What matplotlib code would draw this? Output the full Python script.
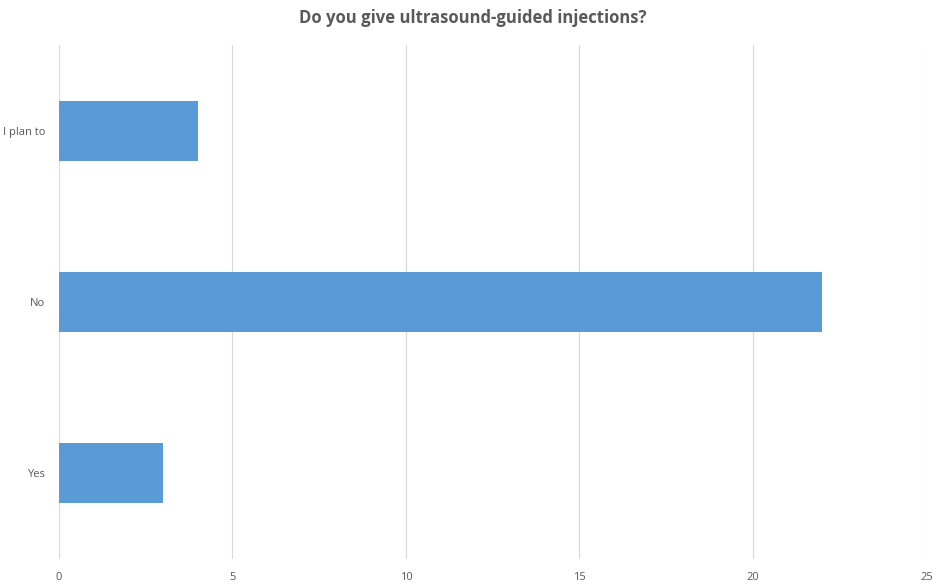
import matplotlib.pyplot as plt

categories = ["Yes", "No", "I plan to"]
counts = [3, 22, 4]
x_ticks = [0, 5, 10, 15, 20, 25]

plt.rcParams['font.family'] = ['Open Sans', 'DejaVu Sans']

fig = plt.figure(figsize=(9.45, 5.88), dpi=100)
ax = fig.add_axes([0.0624, 0.0493, 0.9180, 0.8742])

ypos = list(range(len(categories)))
ax.barh(ypos, counts, height=0.35, color='#5b9bd5', zorder=3)

ax.set_xlim(0, 25)
ax.set_ylim(-0.5, 2.5)
ax.set_xticks(x_ticks)
ax.set_yticks(ypos)
ax.set_yticklabels(categories)
ax.xaxis.grid(True, color='#d9d9d9', lw=0.8, zorder=0)
ax.tick_params(axis='both', length=0, labelsize=8, labelcolor='#595959')
ax.tick_params(axis='x', pad=9)
ax.tick_params(axis='y', pad=10)
for s in ax.spines.values():
    s.set_visible(False)

fig.suptitle("Do you give ultrasound-guided injections?", y=0.985,
             fontsize=12, fontweight='bold', color='#595959')

fig.savefig("out.png", dpi=100)
